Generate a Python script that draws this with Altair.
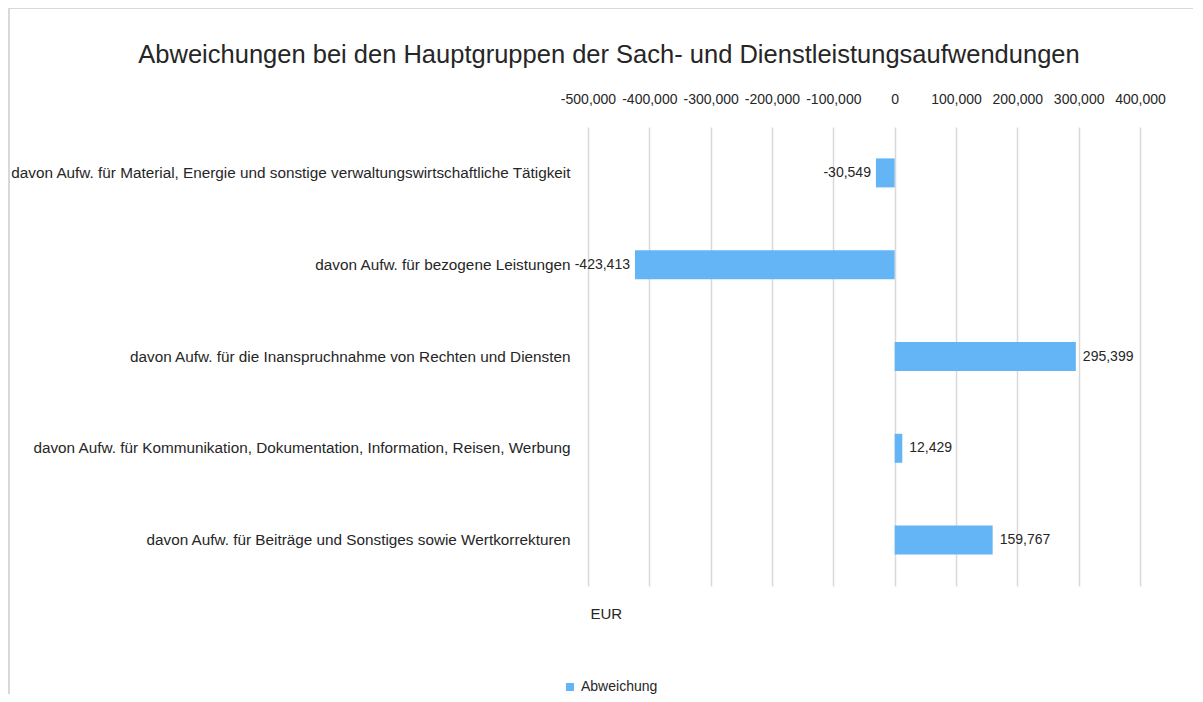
import altair as alt
import pandas as pd

categories = [
    "davon Aufw. für Material, Energie und sonstige verwaltungswirtschaftliche Tätigkeit",
    "davon Aufw. für bezogene Leistungen",
    "davon Aufw. für die Inanspruchnahme von Rechten und Diensten",
    "davon Aufw. für Kommunikation, Dokumentation, Information, Reisen, Werbung ",
    "davon Aufw. für Beiträge und Sonstiges sowie Wertkorrekturen",
]
values = [-30549, -423413, 295399, 12429, 159767]
series_name = "Abweichung"
x_ticks = [-500000, -400000, -300000, -200000, -100000, 0, 100000, 200000, 300000, 400000]
chart_title = "Abweichungen bei den Hauptgruppen der Sach- und Dienstleistungsaufwendungen"
axis_unit = "EUR"

df = pd.DataFrame({
    "Kategorie": categories,
    "Wert": values,
    "Serie": [series_name] * len(values),
    "Label": [f"{v:,}" for v in values],
})

FONT = "Liberation Sans"
TXT = "#262626"

x_enc = alt.X(
    "Wert:Q",
    scale=alt.Scale(domain=[-500000, 400000], nice=False, zero=False),
    axis=alt.Axis(
        orient="top", values=x_ticks, ticks=False, domain=False, grid=True,
        gridColor="#d9d9d9", gridWidth=1.5, labelPadding=21, labelFontSize=14,
        labelColor=TXT, labelFont=FONT, labelOverlap=False, labelFlush=False,
        labelBound=False,
        labelExpr="replace(format(datum.value, ','), '\u2212', '-')",
        title=axis_unit, titleX=2, titleY=491, titleAlign="left",
        titleBaseline="alphabetic", titleFontWeight="normal", titleFontSize=15,
        titleColor=TXT, titleFont=FONT,
    ),
)
y_enc = alt.Y(
    "Kategorie:N",
    sort=categories,
    scale=alt.Scale(paddingInner=0.684, paddingOuter=0.342),
    axis=alt.Axis(
        title=None, ticks=False, domain=False, labelPadding=18, labelFontSize=15.3,
        labelLimit=0, labelColor=TXT, labelFont=FONT,
    ),
)

base = alt.Chart(df)

bars = base.mark_bar().encode(
    x=x_enc,
    y=y_enc,
    color=alt.Color(
        "Serie:N",
        scale=alt.Scale(domain=[series_name], range=["#64b5f6"]),
        legend=alt.Legend(
            title=None, orient="none", legendX=-25, legendY=553, symbolType="square",
            symbolSize=64, labelFontSize=14, labelFont=FONT, labelColor=TXT,
            direction="horizontal", symbolStrokeWidth=0,
        ),
    ),
)

pos_labels = base.transform_filter("datum.Wert >= 0").mark_text(
    align="left", baseline="middle", dx=7, fontSize=14, font=FONT, color=TXT
).encode(x="Wert:Q", y=alt.Y("Kategorie:N", sort=categories), text="Label:N")

neg_labels = base.transform_filter("datum.Wert < 0").mark_text(
    align="right", baseline="middle", dx=-5, fontSize=14, font=FONT, color=TXT
).encode(x="Wert:Q", y=alt.Y("Kategorie:N", sort=categories), text="Label:N")

one = alt.Data(values=[{"t": chart_title}])

title_text = alt.Chart(one).mark_text(
    align="center", baseline="middle", fontSize=25.5, font=FONT, color=TXT
).encode(x=alt.value(21), y=alt.value(-72), text="t:N")

frame = alt.Chart(one).mark_rect(
    fillOpacity=0, stroke="#d9d9d9", strokeWidth=2
).encode(x=alt.value(-579), x2=alt.value(700), y=alt.value(-119), y2=alt.value(700))

chart = alt.layer(frame, bars, neg_labels, pos_labels, title_text).properties(
    width=552,
    height=459,
    autosize=alt.AutoSizeParams(type="none"),
    padding={"left": 580, "top": 119, "right": 53, "bottom": 108},
    background="white",
).configure(font=FONT).configure_view(stroke=None)

chart.save("out.html", embed_options={"renderer": "svg", "actions": False})
